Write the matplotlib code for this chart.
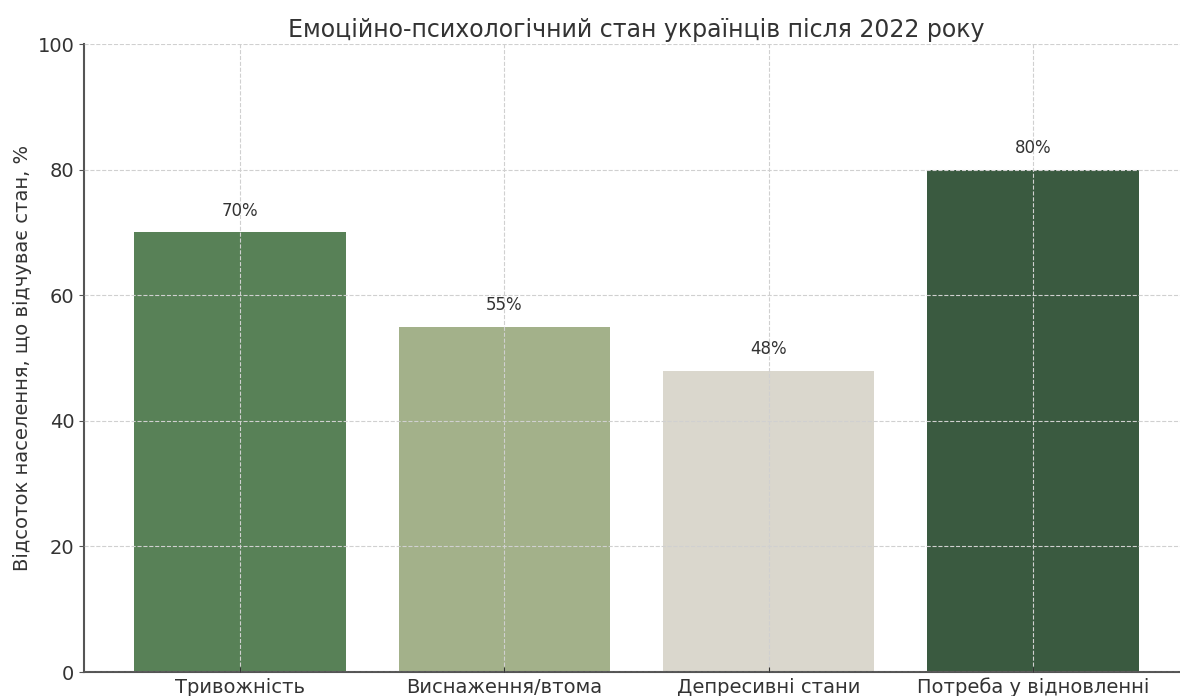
import matplotlib
matplotlib.use("Agg")
import matplotlib.pyplot as plt

categories = ["Тривожність", "Виснаження/втома", "Депресивні стани", "Потреба у відновленні"]
values = [70, 55, 48, 80]
colors = ["#588157", "#a3b18a", "#dad7cd", "#3a5a40"]
yticks = [0, 20, 40, 60, 80, 100]

plt.rcParams['font.family'] = ['DejaVu Sans']
fig = plt.figure(figsize=(11.8, 6.96), dpi=100)
W, H = 1180, 696
ax = fig.add_axes([84 / W, 1 - 672 / H, (1189 - 84) / W, (672 - 44) / H])

x = list(range(len(categories)))
bars = ax.bar(x, values, width=0.8, color=colors, zorder=2)
for xi, v in zip(x, values):
    ax.text(xi, v + 2, f"{v}%", ha="center", va="bottom", fontsize=12, color="#333333", zorder=3)

ax.set_ylim(0, 100)
ax.set_yticks(yticks)
ax.set_xticks(x)
ax.set_xticklabels(categories, fontsize=14, color="#333333")
ax.tick_params(axis='y', labelsize=14, labelcolor="#333333", color="#555555")
ax.tick_params(axis='x', color="#333333", direction="in", pad=4)
ax.set_ylabel("Відсоток населення, що відчуває стан, %", fontsize=14, color="#333333")
ax.set_title("Емоційно-психологічний стан українців після 2022 року", fontsize=17, color="#333333", pad=5)
ax.grid(True, linestyle="--", color="#d0d0d0", linewidth=0.8, zorder=3)
ax.set_axisbelow(False)
for s in ["top", "right"]:
    ax.spines[s].set_visible(False)
for s in ["left", "bottom"]:
    ax.spines[s].set_color("#555555")
    ax.spines[s].set_linewidth(1.5)

fig.savefig("out.png", dpi=100)
